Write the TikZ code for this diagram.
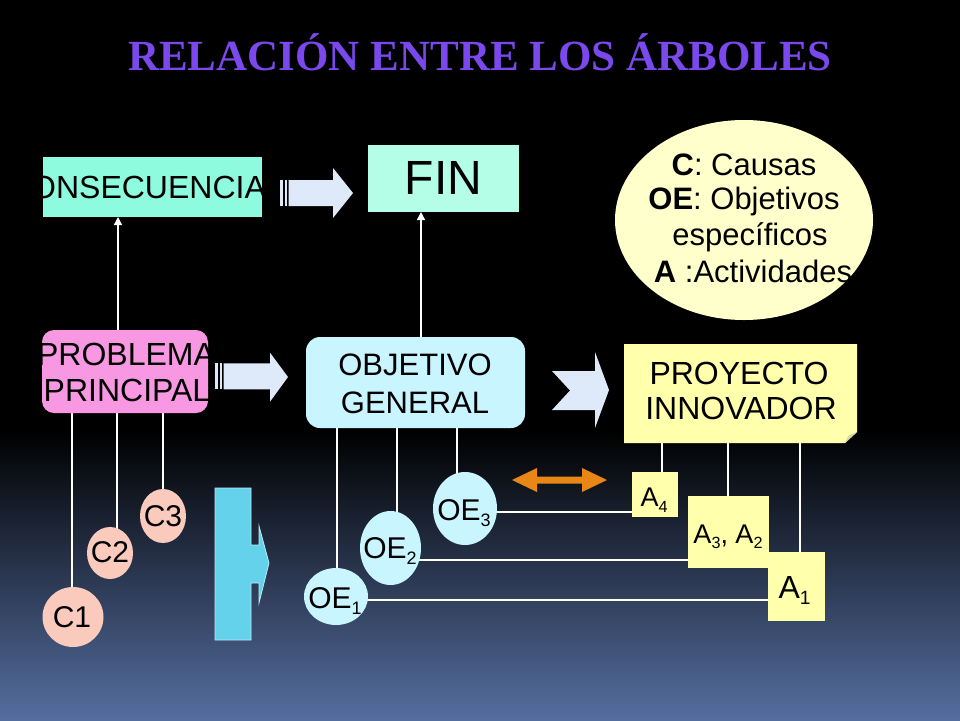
\documentclass[tikz,border=0pt]{standalone}
\usepackage{fontspec}
\setmainfont{Liberation Sans}
\newfontfamily\titlefont{Liberation Serif}
\usetikzlibrary{arrows.meta,shapes.geometric,backgrounds}
\definecolor{bgbot}{RGB}{85,110,160}
\definecolor{conscol}{RGB}{142,250,222}
\definecolor{fincol}{RGB}{180,254,232}
\definecolor{probcol}{RGB}{248,152,226}
\definecolor{objcol}{RGB}{200,245,255}
\definecolor{proycol}{RGB}{255,255,172}
\definecolor{legcol}{RGB}{255,255,204}
\definecolor{ccol}{RGB}{250,202,188}
\definecolor{arrcol}{RGB}{222,233,250}
\definecolor{cyanblk}{RGB}{100,210,235}
\definecolor{orangec}{RGB}{232,134,22}
\definecolor{titlecol}{RGB}{122,72,236}
\newcommand{\lsub}[1]{\raisebox{-0.2em}{\scalebox{0.6}{#1}}}
\newcommand{\fsz}[1]{\fontsize{#1}{#1}\selectfont}
\pgfdeclarelayer{bg}
\pgfsetlayers{bg,background,main}
\begin{document}
\begin{tikzpicture}[x=1pt,y=-1pt,
  boxshape/.style={rectangle,inner sep=0pt,outer sep=0pt},
  ellshape/.style={ellipse,inner sep=0pt,outer sep=0pt},
  txt/.style={inner sep=0pt,outer sep=0pt,text=black},
  wline/.style={draw=white,line width=1.3pt},
  warrow/.style={wline,-{Triangle[width=8pt,length=8pt]}},
  blockarr/.style={fill=arrcol},
]
\useasboundingbox (0,0) rectangle (960,720);
\begin{pgfonlayer}{bg}
  \fill[black] (0,0) rectangle (960,432);
  \shade[top color=black,bottom color=bgbot] (0,431) rectangle (960,720);
\end{pgfonlayer}

% title
\node[txt,text=titlecol,font=\titlefont\bfseries\fsz{43}] (title) at (480,52) {RELACIÓN ENTRE LOS ÁRBOLES};

% CONSECUENCIA
\node[boxshape,fill=conscol,minimum width=219pt,minimum height=60pt] (cons) at (152.5,187) {};
\begin{scope}
  \clip (cons.south west) rectangle (cons.north east);
  \node[txt,font=\fsz{32}] (constxt) at (137,187) {CONSECUENCIA};
\end{scope}

% FIN
\node[boxshape,fill=fincol,minimum width=151pt,minimum height=67pt] (fin) at (443.5,178.5) {};
\node[txt,font=\fsz{48}] (fintxt) at (443.5,178.3) {FIN};

% legend
\node[ellshape,fill=legcol,minimum width=258pt,minimum height=200pt] (leg) at (744,220) {};
\node[txt,font=\fsz{31},anchor=base] (leg1) at (744,175) {\textbf{C}: Causas};
\node[txt,font=\fsz{31},anchor=base] (leg2) at (744,209) {\textbf{OE}: Objetivos};
\node[txt,font=\fsz{31},anchor=base] (leg3) at (750,245) {específicos};
\node[txt,font=\fsz{31},anchor=base] (leg4) at (753,282) {\textbf{A} :Actividades};

% PROBLEMA PRINCIPAL
\node[boxshape,fill=probcol,rounded corners=12pt,minimum width=166pt,minimum height=83pt] (prob) at (125,371.5) {};
\begin{scope}
  \clip (prob.south west) rectangle (prob.north east);
  \node[txt,font=\fsz{32}] (probtxt1) at (126,354) {PROBLEMA};
  \node[txt,font=\fsz{32}] (probtxt2) at (127,390) {PRINCIPAL};
\end{scope}

% OBJETIVO GENERAL
\node[boxshape,fill=objcol,rounded corners=14pt,minimum width=219pt,minimum height=91pt] (obj) at (415.5,382.5) {};
\node[txt,font=\fsz{31}] (objtxt1) at (415,365) {OBJETIVO};
\node[txt,font=\fsz{31}] (objtxt2) at (415,403) {GENERAL};

% PROYECTO INNOVADOR
\fill[proycol] (624,344) -- (857,344) -- (857,432) -- (845,443) -- (624,443) -- cycle;
\fill[proycol!70!gray] (857,432) -- (845,443) -- (848.5,435.5) -- cycle;
\node[boxshape,minimum width=233pt,minimum height=99pt] (proy) at (740.5,393.5) {};
\node[txt,font=\fsz{32}] (proytxt1) at (739,373) {PROYECTO};
\node[txt,font=\fsz{32}] (proytxt2) at (741,408) {INNOVADOR};

% activities
\node[boxshape,fill=proycol,minimum width=46pt,minimum height=45pt] (a4) at (655,494.5) {};
\node[txt,font=\fsz{27},anchor=base] (a4t) at (654,506.7) {A\lsub{4}};
\node[boxshape,fill=proycol,minimum width=81pt,minimum height=72pt] (a32) at (728.5,532) {};
\node[txt,font=\fsz{27},anchor=base] (a32t) at (728,543) {A\lsub{3}, A\lsub{2}};
\node[boxshape,fill=proycol,minimum width=57pt,minimum height=69pt] (a1) at (796.5,586.5) {};
\node[txt,font=\fsz{32},anchor=base] (a1t) at (794.5,598.3) {A\lsub{1}};

% causes
\node[ellshape,fill=ccol,minimum width=61pt,minimum height=60pt] (c1) at (73,617) {};
\node[txt,font=\fsz{30}] (c1t) at (72,617.5) {C1};
\node[ellshape,fill=ccol,minimum width=46pt,minimum height=52pt] (c2) at (110,553) {};
\node[txt,font=\fsz{30}] (c2t) at (110,552.5) {C2};
\node[ellshape,fill=ccol,minimum width=46pt,minimum height=54pt] (c3) at (163,516) {};
\node[txt,font=\fsz{30}] (c3t) at (163,515.8) {C3};

% specific objectives
\node[ellshape,fill=objcol,minimum width=64pt,minimum height=73pt] (oe3) at (465,508.5) {};
\node[txt,font=\fsz{30},anchor=base] (oe3t) at (464,520) {OE\lsub{3}};
\node[ellshape,fill=objcol,minimum width=61pt,minimum height=74pt] (oe2) at (390.5,548) {};
\node[txt,font=\fsz{30},anchor=base] (oe2t) at (390,558.3) {OE\lsub{2}};
\node[ellshape,fill=objcol,minimum width=64pt,minimum height=57pt] (oe1) at (336,596.5) {};
\node[txt,font=\fsz{30},anchor=base] (oe1t) at (335,608.3) {OE\lsub{1}};

% block arrows
\fill[arrcol] (280,180) rectangle (283,206);
\fill[arrcol] (284.5,180) rectangle (287,206);
\fill[arrcol] (288.5,180) -- (333,180) -- (333,168) -- (353,193) -- (333,218) -- (333,206) -- (288.5,206) -- cycle;

\fill[arrcol] (215,363.3) rectangle (218,389.3);
\fill[arrcol] (219.5,363.3) rectangle (222,389.3);
\fill[arrcol] (223.5,363.3) -- (270,363.3) -- (270,352.7) -- (288,377) -- (270,401.7) -- (270,389.3) -- (223.5,389.3) -- cycle;

\fill[arrcol] (552,371) -- (595,371) -- (595,352) -- (609,390) -- (595,428) -- (595,410) -- (552,410) -- (570,390.5) -- cycle;

% cyan block arrow
\filldraw[fill=cyanblk,draw=white!55!cyanblk,line width=0.8pt] (215,488) -- (251,488) -- (251,545) -- (259,545) -- (259,526) -- (269,563) -- (259,603) -- (259,583) -- (251,583) -- (251,640) -- (215,640) -- cycle;

% orange double arrow
\fill[orangec] (512,480) -- (537,468) -- (537,476.5) -- (582,476.5) -- (582,468) -- (607,480) -- (582,492) -- (582,483.5) -- (537,483.5) -- (537,492) -- cycle;

% connectors
\draw[warrow] (prob.north -| 118,0) -- (cons.south -| 118,0);
\draw[warrow] (obj.north -| 421,0) -- (fin.south -| 421,0);
\begin{pgfonlayer}{background}
  \draw[wline] (prob.south -| 72,0) -- (c1.center -| 72,0);
  \draw[wline] (prob.south -| 117,0) -- (c2.center -| 117,0);
  \draw[wline] (prob.south -| 163,0) -- (c3.center -| 163,0);
  \draw[wline] (obj.south -| 337,0) -- (oe1.center -| 337,0);
  \draw[wline] (obj.south -| 397,0) -- (oe2.center -| 397,0);
  \draw[wline] (obj.south -| 457,0) -- (oe3.center -| 457,0);
  \draw[wline] (oe3.center |- 0,512) -- (a4.center |- 0,512);
  \draw[wline] (oe2.center |- 0,560) -- (a32.center |- 0,560);
  \draw[wline] (oe1.center |- 0,600) -- (a1.center |- 0,600);
  \draw[wline] (proy.south -| 662,0) -- (a4.center -| 662,0);
  \draw[wline] (proy.south -| 728,0) -- (a32.center -| 728,0);
  \draw[wline] (proy.south -| 800,0) -- (a1.center -| 800,0);
\end{pgfonlayer}
\end{tikzpicture}
\end{document}
